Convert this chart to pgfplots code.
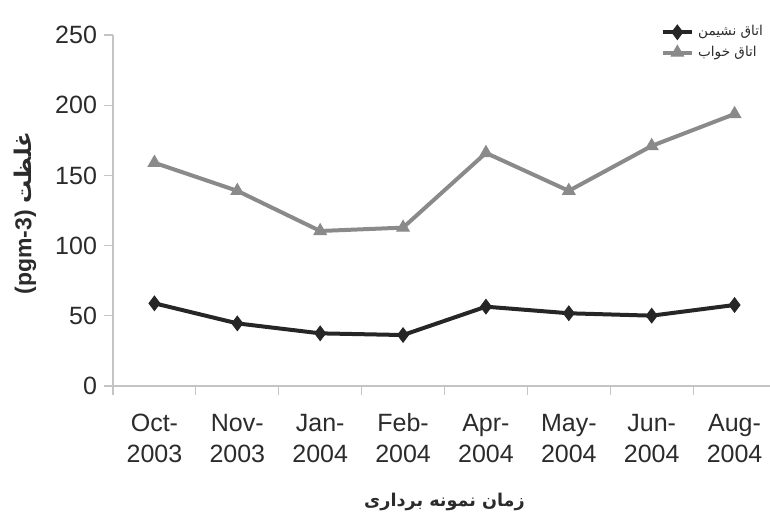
\documentclass[border=0pt]{standalone}
\usepackage{fontspec}
\usepackage{pgfplots}
\pgfplotsset{compat=1.18}
\setmainfont{Liberation Sans}
\newfontfamily\arabicfont[Script=Arabic]{DejaVu Sans}
\TeXXeTstate=1
\definecolor{darkline}{HTML}{262626}
\definecolor{grayline}{HTML}{8A8A8A}
\definecolor{axisgray}{HTML}{C4C4C4}
\definecolor{txt}{HTML}{2B2B2B}
\begin{document}
\begin{tikzpicture}
\useasboundingbox (0,0) rectangle (385pt,257pt);
\begin{axis}[
  at={(56.5pt,64pt)}, anchor=south west,
  scale only axis, width=331.5pt, height=175.5pt,
  xmin=-0.5, xmax=7.5, ymin=0, ymax=250,
  axis lines*=left,
  axis line style={draw=axisgray, line width=0.6pt},
  clip=false,
  ytick={0,50,100,150,200,250},
  xtick={0,...,7},
  xticklabels={{\strut Oct-\\2003},{\strut Nov-\\2003},{\strut Jan-\\2004},{\strut Feb-\\2004},{\strut Apr-\\2004},{\strut May-\\2004},{\strut Jun-\\2004},{\strut Aug-\\2004}},
  xticklabel style={align=center, font=\fontsize{12.5}{15.5}\selectfont, text=txt, yshift=-4pt},
  yticklabel style={font=\fontsize{12.5}{15}\selectfont, text=txt},
  /pgf/number format/assume math mode=true,
  tick align=outside,
  major tick length=4.5pt,
  minor tick length=4.5pt,
  xtick style={draw=none},
  ytick style={draw=axisgray, line width=0.6pt},
  minor xtick={-0.5,0.5,...,7.5},
  minor x tick style={draw=axisgray, line width=0.6pt},
  xlabel={\arabicfont\bfseries\beginR زمان نمونه برداری\endR},
  xlabel style={at={(axis description cs:0.5,-0.33)}, anchor=center, font=\fontsize{8.8}{10}\selectfont, text=txt},
  ylabel={\bfseries (pgm-3) {\arabicfont\beginR غلظت\endR}},
  ylabel style={at={(axis description cs:-0.1327,0.493)}, anchor=center, rotate=0, font=\fontsize{11.5}{13}\selectfont, text=txt},
  legend style={at={(axis description cs:0.99,1.045)}, anchor=north east, draw=none, fill=none,
    font=\fontsize{6.8}{8}\selectfont, text=txt, row sep=-0.5pt, inner sep=1pt},
  legend cell align=left,
  legend image code/.code={\draw[mark repeat=2,mark phase=2] plot coordinates {(0cm,0cm)(0.26cm,0cm)(0.52cm,0cm)};},
]
\addplot[darkline, line width=2pt, mark=diamond*, mark size=3.6pt, mark options={solid, fill=darkline, line width=0.5pt}]
  coordinates {(0,58.9)(1,44.6)(2,37.5)(3,36.3)(4,56.5)(5,51.8)(6,50.1)(7,57.7)};
\addlegendentry{\arabicfont\beginR اتاق نشیمن\endR}
\addplot[grayline, line width=2pt, mark=triangle*, mark size=3.6pt, mark options={solid, fill=grayline, line width=0.5pt}]
  coordinates {(0,159)(1,139)(2,110.4)(3,112.8)(4,166)(5,139)(6,171)(7,193.7)};
\addlegendentry{\arabicfont\beginR اتاق خواب\endR}
\end{axis}
\end{tikzpicture}
\end{document}
